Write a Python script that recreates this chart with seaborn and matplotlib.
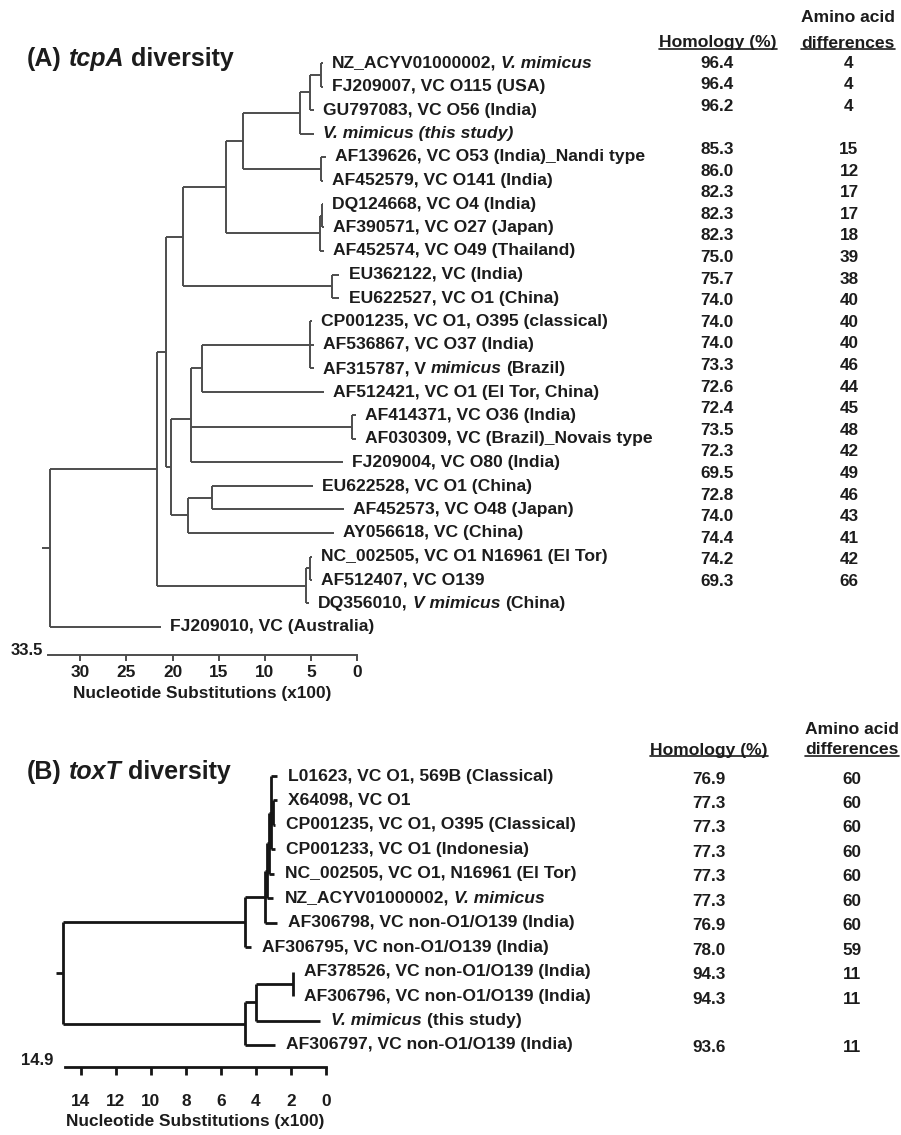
"""tcpA / toxT diversity trees with homology table."""

import matplotlib
matplotlib.use("Agg")
import matplotlib.pyplot as plt
import pandas as pd
import seaborn as sns


# ─── (A) tcpA data ────────────────────────────────────────────────────────────

tcpa_leaves = [
    "NZ_ACYV01000002, *V. mimicus*",
    "FJ209007, VC O115 (USA)",
    "GU797083, VC O56 (India)",
    "*V. mimicus (this study)*",
    "AF139626, VC O53 (India)_Nandi type",
    "AF452579, VC O141 (India)",
    "DQ124668, VC O4 (India)",
    "AF390571, VC O27 (Japan)",
    "AF452574, VC O49 (Thailand)",
    "EU362122, VC (India)",
    "EU622527, VC O1 (China)",
    "CP001235, VC O1, O395 (classical)",
    "AF536867, VC O37 (India)",
    "AF315787, V *mimicus* (Brazil)",
    "AF512421, VC O1 (El Tor, China)",
    "AF414371, VC O36 (India)",
    "AF030309, VC (Brazil)_Novais type",
    "FJ209004, VC O80 (India)",
    "EU622528, VC O1 (China)",
    "AF452573, VC O48 (Japan)",
    "AY056618, VC (China)",
    "NC_002505, VC O1 N16961 (El Tor)",
    "AF512407, VC O139",
    "DQ356010, *V mimicus* (China)",
    "FJ209010, VC (Australia)",
]
tcpa_tip = [3.7, 3.7, 4.7, 4.7, 3.4, 3.7, 3.7, 3.6, 3.6, 1.9, 1.9, 4.9, 4.7,
            4.7, 3.6, 0.1, 0.1, 1.5, 4.8, 1.4, 2.5, 4.9, 4.9, 5.2, 21.3]
tcpa_homology = [96.4, 96.4, 96.2, None, 85.3, 86.0, 82.3, 82.3, 82.3, 75.0,
                 75.7, 74.0, 74.0, 74.0, 73.3, 72.6, 72.4, 73.5, 72.3, 69.5,
                 72.8, 74.0, 74.4, 74.2, 69.3]
tcpa_aa_diff = [4, 4, 4, None, 15, 12, 17, 17, 18, 39, 38, 40, 40, 40, 46, 44,
                45, 48, 42, 49, 46, 43, 41, 42, 66]
# internal nodes, post-order; children are leaf indices or node names
tcpa_node_names = ["a", "b", "c", "e", "d", "g1", "g", "f", "i", "h", "q", "o",
                   "p", "m", "r", "n", "l", "j", "t", "s", "k", "root"]
tcpa_node_children = [[0, 1], ["a", 2], ["b", 3], [4, 5], ["c", "e"], [6, 7],
                      ["g1", 8], ["d", "g"], [9, 10], ["f", "i"], [11, 12, 13],
                      ["q", 14], [15, 16], ["o", "p", 17], [18, 19], ["r", 20],
                      ["m", "n"], ["h", "l"], [21, 22], ["t", 23], ["j", "s"],
                      ["k", 24]]
tcpa_node_depth = [3.9, 5.1, 6.2, 3.9, 12.4, 3.8, 4.0, 14.2, 2.7, 18.9, 5.1,
                   16.8, 0.5, 18.0, 15.7, 18.3, 20.2, 20.7, 5.1, 5.5, 21.7, 33.3]
tcpa_scale_max = 33.5
tcpa_ticks = [30, 25, 20, 15, 10, 5, 0]

# ─── (B) toxT data ────────────────────────────────────────────────────────────

toxt_leaves = [
    "L01623, VC O1, 569B (Classical)",
    "X64098, VC O1",
    "CP001235, VC O1, O395 (Classical)",
    "CP001233, VC O1 (Indonesia)",
    "NC_002505, VC O1, N16961 (El Tor)",
    "NZ_ACYV01000002, *V. mimicus*",
    "AF306798, VC non-O1/O139 (India)",
    "AF306795, VC non-O1/O139 (India)",
    "AF378526, VC non-O1/O139 (India)",
    "AF306796, VC non-O1/O139 (India)",
    "*V. mimicus* (this study)",
    "AF306797, VC non-O1/O139 (India)",
]
toxt_tip = [2.8, 2.8, 2.9, 2.9, 2.95, 3.0, 2.8, 4.3, 1.9, 1.9, 0.35, 2.9]
toxt_homology = [76.9, 77.3, 77.3, 77.3, 77.3, 77.3, 76.9, 78.0, 94.3, 94.3,
                 None, 93.6]
toxt_aa_diff = [60, 60, 60, 60, 60, 60, 60, 59, 11, 11, None, 11]
toxt_node_names = ["a1", "y1", "y2", "w", "v", "u", "nn", "mm", "ll", "root"]
toxt_node_children = [[1, 2], [0, "a1", 3], ["y1", 4], ["y2", 5], ["w", 6],
                      ["v", 7], [8, 9], ["nn", 10], ["mm", 11], ["u", "ll"]]
toxt_node_depth = [3.05, 3.15, 3.25, 3.35, 3.5, 4.6, 1.9, 4.0, 4.6, 15.0]
toxt_scale_max = 14.9
toxt_ticks = [14, 12, 10, 8, 6, 4, 2, 0]

TEXT = "#1c1c1c"
W, H = 901, 1135


# ─── helpers ──────────────────────────────────────────────────────────────────

def tree_segments(tips, names, children, depths, stub):
    """Rectangular layout: leaf i at row i, node at mean row of its children."""
    xs = {i: d for i, d in enumerate(tips)}
    ys = {i: float(i) for i in range(len(tips))}
    rows = []

    def add(x0, y0, x1, y1):
        seg = len(rows) // 2
        rows.append({"seg": seg, "x": x0, "y": y0})
        rows.append({"seg": seg, "x": x1, "y": y1})

    for name, kids, d in zip(names, children, depths):
        ky = [ys[k] for k in kids]
        ys[name] = sum(ky) / len(ky)
        xs[name] = d
        add(d, min(ky), d, max(ky))
        for k in kids:
            add(d, ys[k], xs[k], ys[k])
    root = names[-1]
    add(xs[root] + stub, ys[root], xs[root], ys[root])
    return pd.DataFrame(rows)


def rich_text(ax, xy, label, size, dx=0, coords="data", **kw):
    """Draw a label where *...* segments are italic, pieces chained left to right."""
    prev = None
    gap = 0.0
    for k, part in enumerate(label.split("*")):
        if not part:
            continue
        if prev is not None and part.startswith(" "):
            gap = 0.278 * size
        text = part.strip()
        style = "italic" if k % 2 else "normal"
        if prev is None:
            prev = ax.annotate(text, xy=xy, xycoords=coords, xytext=(dx, 0),
                               textcoords="offset points", ha="left", va="center",
                               fontsize=size, fontweight="bold", fontstyle=style,
                               color=TEXT, annotation_clip=False, **kw)
        else:
            prev = ax.annotate(text, xy=(1, 0), xycoords=prev, xytext=(gap, 0),
                               textcoords="offset points", ha="left", va="bottom",
                               fontsize=size, fontweight="bold", fontstyle=style,
                               color=TEXT, annotation_clip=False, **kw)
        gap = 0.278 * size if part.endswith(" ") else 0.0
    return prev


def draw_tree(fig, box, rows, df, tips, leaves, scale_max, ticks, line_color, lw,
              tick_len, tick_pad, label_pad, label_dx, root_dx, root_dy):
    left, top, right, bottom = box
    ax = fig.add_axes([left / W, 1 - bottom / H, (right - left) / W, (bottom - top) / H])
    sns.lineplot(data=df, x="x", y="y", units="seg", estimator=None, sort=False,
                 color=line_color, linewidth=lw, ax=ax, legend=False)
    for line in ax.lines:
        line.set_clip_on(False)
        line.set_solid_capstyle("butt")
    row0, step = rows
    ax.set_xlim(scale_max, 0)
    ax.set_ylim((bottom - row0) / step, (top - row0) / step)
    for side in ["top", "right", "left"]:
        ax.spines[side].set_visible(False)
    ax.spines["bottom"].set_color(line_color)
    ax.spines["bottom"].set_linewidth(lw)
    ax.patch.set_alpha(0)
    ax.set_yticks([])
    ax.set_ylabel("")
    ax.set_xticks(ticks)
    ax.set_xticklabels([str(t) for t in ticks])
    ax.tick_params(axis="x", bottom=True, direction="out", length=tick_len,
                   width=lw, color=line_color, pad=tick_pad, labelsize=12.4,
                   labelcolor=TEXT)
    for lab in ax.get_xticklabels():
        lab.set_fontweight("bold")
    ax.set_xlabel("Nucleotide Substitutions (x100)", fontsize=12.4,
                  fontweight="bold", color=TEXT, labelpad=label_pad)
    ax.annotate(f"{scale_max}", xy=(0, 0), xycoords="axes fraction",
                xytext=(root_dx, root_dy), textcoords="offset points",
                ha="right", va="center", fontsize=12, fontweight="bold",
                color=TEXT, annotation_clip=False)
    for i, (name, tip) in enumerate(zip(leaves, tips)):
        rich_text(ax, (tip, i), name, 12.6, dx=label_dx)
    return ax


def draw_table(ax, hom, diff, x_hom, x_diff, y0, step, size):
    for i, (h, d) in enumerate(zip(hom, diff)):
        if h is None:
            continue
        y = y0 + step * i
        ax.text(x_hom, y, f"{h:.1f}", ha="center", va="center", fontsize=size,
                fontweight="bold", color=TEXT)
        ax.text(x_diff, y, f"{d}", ha="center", va="center", fontsize=size,
                fontweight="bold", color=TEXT)


# ─── figure ───────────────────────────────────────────────────────────────────

sns.set_style("ticks")
plt.rcParams["font.family"] = ["Liberation Sans", "DejaVu Sans"]

fig = plt.figure(figsize=(W / 100, H / 100), dpi=100)
over = fig.add_axes([0, 0, 1, 1])
over.set_xlim(0, W)
over.set_ylim(H, 0)
over.axis("off")

tcpa_df = tree_segments(tcpa_tip, tcpa_node_names, tcpa_node_children,
                        tcpa_node_depth, stub=0.85)
toxt_df = tree_segments(toxt_tip, toxt_node_names, toxt_node_children,
                        toxt_node_depth, stub=0.4)

draw_tree(fig, (48, 40, 357, 655), (63, 23.5), tcpa_df, tcpa_tip, tcpa_leaves,
          tcpa_scale_max, tcpa_ticks, "#4d4d4d", 1.4, tick_len=4.3, tick_pad=3,
          label_pad=4, label_dx=6.5, root_dx=-3.5, root_dy=3.5)
draw_tree(fig, (65, 760, 326, 1067), (776, 24.45), toxt_df, toxt_tip, toxt_leaves,
          toxt_scale_max, toxt_ticks, "#151515", 2.0, tick_len=5.8, tick_pad=13.5,
          label_pad=3.5, label_dx=8, root_dx=-8.6, root_dy=5)

rich_text(over, (27, 59), "(A) *tcpA* diversity", 18)
rich_text(over, (27, 772), "(B) *toxT* diversity", 18)

headers = []
for x_h, x_d, y_top, y_bot in [(718, 848, 18, 43), (709, 852, 729, 750)]:
    over.text(x_d, y_top, "Amino acid", ha="center", va="center", fontsize=12.6,
              fontweight="bold", color=TEXT)
    headers.append(over.text(x_h, y_bot, "Homology (%)", ha="center", va="center",
                             fontsize=12.6, fontweight="bold", color=TEXT))
    headers.append(over.text(x_d, y_bot, "differences", ha="center", va="center",
                             fontsize=12.6, fontweight="bold", color=TEXT))

draw_table(over, tcpa_homology, tcpa_aa_diff, 717, 849, 63, 21.6, 12.3)
draw_table(over, toxt_homology, toxt_aa_diff, 709, 852, 779, 24.45, 12.3)

# underline the column headers
fig.canvas.draw()
inv = over.transData.inverted()
for t in headers:
    bb = t.get_window_extent()
    (x0, y0), (x1, _) = inv.transform([(bb.x0, bb.y0), (bb.x1, bb.y0)])
    over.plot([x0, x1], [y0 - 1.5, y0 - 1.5], color=TEXT, lw=1.2)

fig.savefig("out.png", dpi=100)
plt.close(fig)
